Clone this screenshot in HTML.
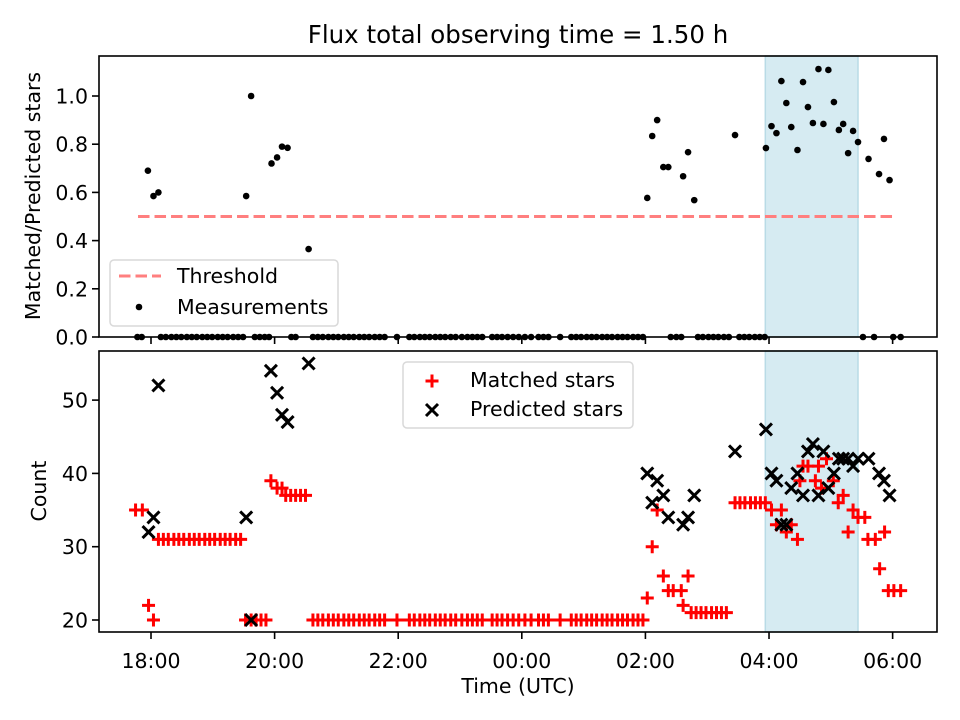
<!DOCTYPE html>
<html><head><meta charset="utf-8"><style>
body{margin:0;background:#fff}
svg{display:block;font-family:"DejaVu Sans","Liberation Sans",sans-serif}
</style></head><body>
<svg id="chart" width="960" height="720">
<text x="518" y="43" font-size="24.5" text-anchor="middle">Flux total observing time = 1.50 h</text>
</svg>
<script>
// times in hours relative to 18:00 UTC
const xTickHours = [0, 2, 4, 6, 8, 10, 12];
const xTickLabels = ["18:00", "20:00", "22:00", "00:00", "02:00", "04:00", "06:00"];
const topTicks = [0.0, 0.2, 0.4, 0.6, 0.8, 1.0];
const botTicks = [20, 30, 40, 50];
const threshold = 0.5;
const thresholdRange = [-0.21, 12.04];
const shadeRange = [9.94, 11.44];

const fluxTimes = [-0.05,0.04,0.12,1.54,1.62,1.95,2.04,2.12,2.21,2.55,
 8.03,8.11,8.19,8.29,8.37,8.61,8.69,8.79,9.45,
 9.95,10.04,10.12,10.20,10.28,10.36,10.46,10.55,10.63,10.71,10.80,10.88,10.96,11.05,11.13,11.20,11.28,11.36,11.44,11.61,11.78,11.86,11.95,
 -0.22,-0.15,0.16,0.24,0.33,0.41,0.49,0.58,0.66,0.74,0.83,0.91,0.99,1.08,1.16,1.24,1.33,1.41,1.49,
 1.68,1.76,1.84,1.91,2.27,2.34,2.62,2.70,2.78,2.87,2.95,3.03,3.12,3.20,3.28,3.37,3.45,3.53,3.62,3.70,3.78,
 3.98,4.18,4.26,4.35,4.43,4.51,4.60,4.68,4.76,4.85,4.93,5.03,5.12,5.20,5.28,5.36,
 5.52,5.60,5.68,5.77,5.86,5.95,6.05,6.15,6.27,6.35,6.43,6.62,6.80,6.88,6.96,7.05,7.13,7.21,7.30,7.38,7.46,
 7.55,7.63,7.71,7.80,7.88,7.96,8.41,8.50,8.58,8.85,8.93,9.02,9.10,9.18,9.27,9.35,9.52,9.60,9.68,9.77,9.85,9.93,
 11.52,11.70,12.01,12.13];
const fluxValues = [0.69,0.585,0.60,0.585,1.0,0.72,0.745,0.79,0.785,0.365,
 0.577,0.834,0.90,0.705,0.705,0.667,0.767,0.568,0.838,
 0.784,0.875,0.846,1.062,0.971,0.871,0.776,1.058,0.954,0.888,1.112,0.884,1.108,0.975,0.859,0.884,0.763,0.855,0.809,0.739,0.676,0.822,0.651,
 0,0,0,0,0,0,0,0,0,0,0,0,0,0,0,0,0,0,0,
 0,0,0,0,0,0,0,0,0,0,0,0,0,0,0,0,0,0,0,0,0,0,0,
 0,0,0,0,0,0,0,0,0,0,0,0,0,0,0,0,
 0,0,0,0,0,0,0,0,0,0,0,0,0,0,0,0,0,0,0,0,0,
 0,0,0,0,0,0,0,0,0,0,0,0,0,0,0,0,0,0,0,0,0,0,
 0,0,0,0];

const matchedTimes = [-0.25,-0.14,-0.04,0.04,
 0.12,0.20,0.28,0.37,0.45,0.53,0.62,0.70,0.78,0.87,0.95,1.03,1.12,1.20,1.28,1.37,1.45,
 1.53,1.62,1.70,1.78,1.86,1.94,2.04,2.12,2.18,2.26,2.34,2.42,2.50,
 2.62,2.70,2.78,2.87,2.95,3.03,3.12,3.20,3.28,3.37,3.45,3.53,3.62,3.70,3.78,3.98,4.18,4.26,4.35,4.43,4.51,4.60,4.68,4.76,4.85,4.93,
 5.03,5.12,5.20,5.28,5.36,5.52,5.60,5.68,5.77,5.86,5.95,6.05,6.15,6.27,6.35,6.43,6.62,6.80,6.88,6.96,7.05,7.13,7.21,7.30,7.38,7.46,
 7.55,7.63,7.71,7.80,7.88,7.96,
 8.03,8.11,8.19,8.29,8.37,8.45,8.58,8.61,8.69,8.74,8.82,8.90,8.98,9.07,9.15,9.23,9.31,
 9.45,9.53,9.61,9.70,9.78,9.86,9.94,
 10.04,10.20,10.12,10.36,10.28,10.46,10.55,10.63,10.80,10.50,10.75,10.93,10.85,11.04,11.12,11.20,11.28,11.36,11.44,11.55,11.60,11.72,11.79,11.87,11.93,12.02,12.13];
const matchedValues = [35,35,22,20,
 31,31,31,31,31,31,31,31,31,31,31,31,31,31,31,31,31,
 20,20,20,20,20,39,38,38,37,37,37,37,37,
 20,20,20,20,20,20,20,20,20,20,20,20,20,20,20,20,20,20,20,20,20,20,20,20,20,20,
 20,20,20,20,20,20,20,20,20,20,20,20,20,20,20,20,20,20,20,20,20,20,20,20,20,20,
 20,20,20,20,20,20,
 23,30,35,26,24,24,24,22,26,21,21,21,21,21,21,21,21,
 36,36,36,36,36,36,36,
 35,35,33,33,32,31,41,41,41,39,39,42,38,39,36,37,32,35,34,34,31,31,27,32,24,24,24];

const predTimes = [-0.04,0.04,0.12,1.54,1.62,1.94,2.04,2.12,2.21,2.55,
 8.03,8.11,8.19,8.29,8.37,8.61,8.69,8.79,9.45,9.95,10.04,10.12,10.20,10.28,10.36,10.46,10.55,10.63,10.71,10.80,10.88,10.96,11.05,11.13,11.20,11.28,11.36,11.44,11.61,11.78,11.86,11.95];
const predValues = [32,34,52,34,20,54,51,48,47,55,
 40,36,39,37,34,33,34,37,43,46,40,39,33,33,38,40,37,43,44,37,43,38,40,42,42,42,41,42,42,40,39,37];

const NS = "http://www.w3.org/2000/svg";
const svg = document.getElementById('chart');
const L = 99, R = 937;
const xMin = -0.8414, xMax = 12.718;
const TOP = {y0: 56, y1: 337, vmin: 0, vmax: 1.166};
const BOT = {y0: 351, y1: 632, vmin: 18.363, vmax: 56.70};
const FS = 20.5;
function xs(t){ return L + (t - xMin) / (xMax - xMin) * (R - L); }
function ys(ax, v){ return ax.y1 - (v - ax.vmin) / (ax.vmax - ax.vmin) * (ax.y1 - ax.y0); }
function mk(tag, attrs, parent){
  const e = document.createElementNS(NS, tag);
  for (const k in attrs) e.setAttribute(k, attrs[k]);
  (parent || svg).appendChild(e);
  return e;
}
function plusMark(g, x, y, c){
  mk('path', {d:`M${x-6.5},${y}H${x+6.5}M${x},${y-6.5}V${y+6.5}`, stroke:c, 'stroke-width':3}, g);
}
function xMark(g, x, y, c){
  mk('path', {d:`M${x-6},${y-6}L${x+6},${y+6}M${x-6},${y+6}L${x+6},${y-6}`, stroke:c, 'stroke-width':3}, g);
}

// shading
[TOP, BOT].forEach((ax, i) => {
  const r = mk('rect', {x: xs(shadeRange[0]), y: ax.y0, width: xs(shadeRange[1]) - xs(shadeRange[0]), height: ax.y1 - ax.y0, fill:'#d6ebf2', stroke:'#b9dbe6', 'stroke-width':1.5});
  
  
});

// threshold
const th = mk('line', {x1: xs(thresholdRange[0]), x2: xs(thresholdRange[1]), y1: ys(TOP, threshold), y2: ys(TOP, threshold), stroke:'#ff7f7f', 'stroke-width':3, 'stroke-dasharray':'11.5,5'});



// measurements
const gM = mk('g', {});


fluxTimes.forEach((t, i) => {
  const c = mk('circle', {cx: xs(t), cy: ys(TOP, fluxValues[i]), r: 3.3, fill:'#000'}, gM);
  
  
});

// matched
const gMa = mk('g', {});


matchedTimes.forEach((t, i) => plusMark(gMa, xs(t), ys(BOT, matchedValues[i]), '#ff0000'));
// predicted
const gP = mk('g', {});


predTimes.forEach((t, i) => xMark(gP, xs(t), ys(BOT, predValues[i]), '#000'));

// frames & ticks
[TOP, BOT].forEach((ax, i) => {
  const f = mk('rect', {x: L, y: ax.y0, width: R - L, height: ax.y1 - ax.y0, fill:'none', stroke:'#000', 'stroke-width':1.6});
  
  
  xTickHours.forEach((h, j) => {
    const x = xs(h);
    mk('line', {x1:x, x2:x, y1:ax.y1, y2:ax.y1 + 7, stroke:'#000', 'stroke-width':1.6});
    if (i === 1) {
      const tx = mk('text', {x:x, y:ax.y1 + 36, 'font-size':FS, 'text-anchor':'middle'});
      tx.textContent = xTickLabels[j];
      
      
    }
  });
  const ticks = i === 0 ? topTicks : botTicks;
  ticks.forEach(v => {
    const y = ys(ax, v);
    mk('line', {x1:L - 7, x2:L, y1:y, y2:y, stroke:'#000', 'stroke-width':1.6});
    const tx = mk('text', {x:L - 11, y:y + 7.5, 'font-size':FS, 'text-anchor':'end'});
    tx.textContent = i === 0 ? v.toFixed(1) : String(v);
    
    
  });
});

// axis titles
let t;
t = mk('text', {x:0, y:0, 'font-size':FS, 'text-anchor':'middle', transform:'translate(40,196) rotate(-90)'});
t.textContent = 'Matched/Predicted stars';


t = mk('text', {x:0, y:0, 'font-size':FS, 'text-anchor':'middle', transform:'translate(46,491) rotate(-90)'});
t.textContent = 'Count';


t = mk('text', {x:518, y:693, 'font-size':FS, 'text-anchor':'middle'});
t.textContent = 'Time (UTC)';



// top legend
const lg1 = mk('g', {});


mk('rect', {x:110, y:260, width:228, height:66, rx:4, fill:'#fff', 'fill-opacity':0.8, stroke:'#d9d9d9', 'stroke-width':1.5}, lg1);
mk('line', {x1:119, x2:161, y1:276, y2:276, stroke:'#ff7f7f', 'stroke-width':3, 'stroke-dasharray':'11.5,5'}, lg1);
t = mk('text', {x:177, y:283, 'font-size':FS}, lg1); t.textContent = 'Threshold';


mk('circle', {cx:139, cy:307, r:3.3, fill:'#000'}, lg1);
t = mk('text', {x:177, y:314, 'font-size':FS}, lg1); t.textContent = 'Measurements';



// bottom legend
const lg2 = mk('g', {});


mk('rect', {x:403, y:362, width:230, height:66, rx:4, fill:'#fff', 'fill-opacity':0.8, stroke:'#d9d9d9', 'stroke-width':1.5}, lg2);
plusMark(lg2, 432, 381, '#ff0000');
t = mk('text', {x:470, y:387, 'font-size':FS}, lg2); t.textContent = 'Matched stars';


xMark(lg2, 432, 410, '#000');
t = mk('text', {x:470, y:416, 'font-size':FS}, lg2); t.textContent = 'Predicted stars';


</script>
</body></html>
